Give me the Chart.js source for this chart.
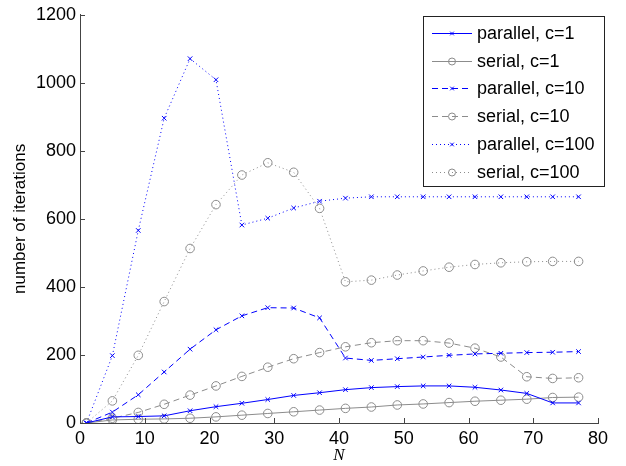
<!DOCTYPE html>
<html>
<head>
<meta charset="utf-8">
<script src="https://cdn.jsdelivr.net/npm/chart.js@4/dist/chart.umd.min.js"></script>
<style>
html,body{margin:0;padding:0;background:#fff;}
#wrap{width:626px;height:466px;position:relative;}
</style>
</head>
<body>
<div id="wrap"><canvas id="c" width="626" height="466"></canvas></div>
<script>
const N = [1,5,9,13,17,21,25,29,33,37,41,45,49,53,57,61,65,69,73,77];
const parallel1   = [0,18,19,21,36,48,58,69,81,89,98,104,107,109,109,105,97,87,59,59];
const serial1     = [0,9,11,12,14,18,23,28,33,38,43,47,53,56,60,64,67,70,75,76];
const parallel10  = [0,32,83,150,217,274,315,339,338,309,191,184,189,194,199,203,205,207,208,210];
const serial10    = [0,14,31,55,82,109,137,164,189,207,224,236,242,242,235,220,194,136,131,133];
const parallel100 = [0,198,566,896,1071,1009,582,602,632,652,661,665,665,665,665,665,665,665,665,665];
const serial100   = [0,65,199,357,513,642,729,765,737,631,415,420,435,447,458,466,471,474,475,475];
const seriesLabels = ['parallel, c=1','serial, c=1','parallel, c=10','serial, c=10','parallel, c=100','serial, c=100'];
const xTicks = [0,10,20,30,40,50,60,70,80];
const yTicks = [0,200,400,600,800,1000,1200];

const BLUE = '#0000ff';
const GRAY = '#8c8c8c';
const FONT = '"Liberation Sans", Arial, Helvetica, sans-serif';

function mk(label, data, kind, dash) {
  const isPar = kind === 'par';
  return {
    label: label,
    data: N.map((n, i) => ({x: n, y: data[i]})),
    borderColor: isPar ? BLUE : GRAY,
    backgroundColor: 'rgba(0,0,0,0)',
    borderWidth: 1,
    borderDash: dash,
    pointStyle: isPar ? 'crossRot' : 'circle',
    pointRadius: isPar ? 3.2 : 4.3,
    pointBorderColor: isPar ? BLUE : GRAY,
    pointBackgroundColor: 'rgba(0,0,0,0)',
    pointBorderWidth: 1,
    tension: 0,
    fill: false
  };
}

const datasets = [
  mk(seriesLabels[0], parallel1, 'par', []),
  mk(seriesLabels[1], serial1, 'ser', []),
  mk(seriesLabels[2], parallel10, 'par', [6,4]),
  mk(seriesLabels[3], serial10, 'ser', [6,4]),
  mk(seriesLabels[4], parallel100, 'par', [1,3]),
  mk(seriesLabels[5], serial100, 'ser', [1,3])
];

const AXIS = '#444';

const inwardTicks = {
  id: 'inwardTicks',
  afterDraw(chart) {
    const ctx = chart.ctx;
    const xs = chart.scales.x, ys = chart.scales.y;
    const ca = chart.chartArea;
    ctx.save();
    ctx.strokeStyle = AXIS;
    ctx.lineWidth = 1;
    ctx.beginPath();
    xTicks.forEach(v => {
      const px = Math.round(xs.getPixelForValue(v)) + 0.5;
      ctx.moveTo(px, ca.bottom);
      ctx.lineTo(px, ca.bottom - 5);
    });
    yTicks.forEach(v => {
      const py = Math.round(ys.getPixelForValue(v)) + 0.5;
      ctx.moveTo(ca.left, py);
      ctx.lineTo(ca.left + 5, py);
    });
    ctx.stroke();

    // legend
    const lx = 423.5, ly = 16.5, lw = 181, lh = 170;
    ctx.fillStyle = '#fff';
    ctx.fillRect(lx, ly, lw, lh);
    ctx.strokeStyle = '#222';
    ctx.strokeRect(lx, ly, lw, lh);
    ctx.font = '18px ' + FONT;
    ctx.textBaseline = 'middle';
    ctx.textAlign = 'left';
    chart.data.datasets.forEach((ds, i) => {
      const y = Math.round(33 + i * 27.7) + 0.5;
      ctx.save();
      ctx.strokeStyle = ds.borderColor;
      ctx.lineWidth = 1;
      ctx.setLineDash(ds.borderDash);
      ctx.beginPath();
      ctx.moveTo(432, y);
      ctx.lineTo(472, y);
      ctx.stroke();
      ctx.setLineDash([]);
      ctx.fillStyle = 'rgba(0,0,0,0)';
      ctx.strokeStyle = ds.borderColor;
      Chart.helpers.drawPoint(ctx, {
        pointStyle: ds.pointStyle,
        radius: ds.pointStyle === 'circle' ? 3.5 : 2.6,
        borderWidth: 1,
        rotation: 0
      }, 452, y);
      ctx.restore();
      ctx.fillStyle = '#000';
      ctx.fillText(ds.label, 477, y + 1);
    });
    ctx.restore();
  }
};

new Chart(document.getElementById('c'), {
  type: 'line',
  data: { datasets: datasets },
  options: {
    responsive: false,
    animation: false,
    devicePixelRatio: 1,
    layout: { padding: { top: 13, right: 28, left: 0, bottom: 0 } },
    plugins: { legend: { display: false }, tooltip: { enabled: false } },
    scales: {
      x: {
        type: 'linear',
        min: 0, max: 80,
        afterFit(s) { s.height = 43; },
        afterBuildTicks(s) { s.ticks = xTicks.map(v => ({value: v})); },
        grid: { display: false, drawTicks: false },
        border: { display: true, color: AXIS, width: 1 },
        ticks: { color: '#000', font: { size: 18, family: FONT }, padding: 5, maxRotation: 0, callback: v => String(v) },
        title: { display: true, text: 'N', color: '#000', font: { size: 17, family: '"Liberation Serif", "Times New Roman", serif', style: 'italic' }, padding: { top: 0, bottom: 0 } }
      },
      y: {
        min: 0, max: 1200,
        afterFit(s) { s.width = 80; },
        afterBuildTicks(s) { s.ticks = yTicks.map(v => ({value: v})); },
        grid: { display: false, drawTicks: false },
        border: { display: true, color: AXIS, width: 1 },
        ticks: { color: '#000', font: { size: 18, family: FONT }, padding: 4, callback: v => String(v) },
        title: { display: true, text: 'number of iterations', color: '#000', font: { size: 17, family: FONT }, padding: { top: 10, bottom: 0 } }
      }
    }
  },
  plugins: [inwardTicks]
});
</script>
</body>
</html>
